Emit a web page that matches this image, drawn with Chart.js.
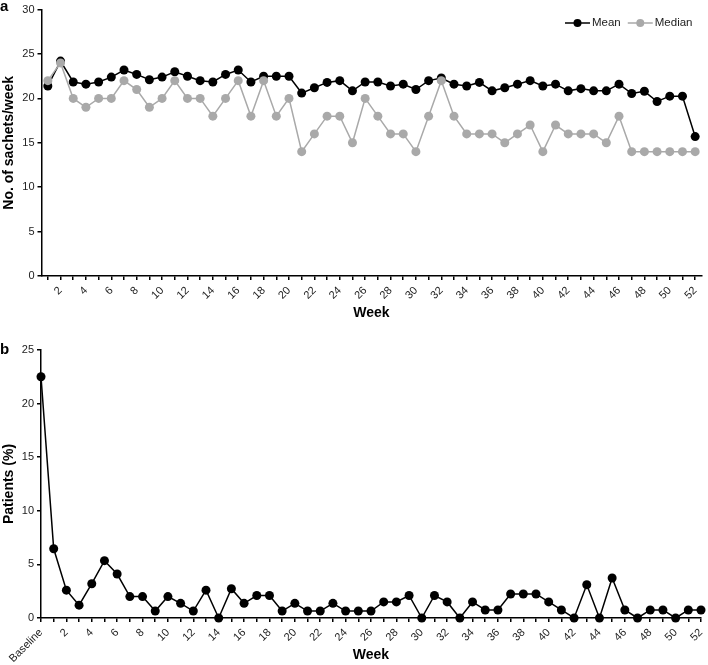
<!DOCTYPE html>
<html>
<head>
<meta charset="utf-8">
<script src="https://cdn.jsdelivr.net/npm/chart.js@4.4.1/dist/chart.umd.min.js"></script>
<style>
  body { margin: 0; background: #fff; width: 708px; height: 665px; position: relative; overflow: hidden; }
  canvas { position: absolute; left: 0; }
  #chartA { top: 0; }
  #chartB { top: 330px; }
  .panel { position: absolute; left: 0; font: bold 15px "Liberation Sans", Arial, sans-serif; color: #000; z-index: 2; }
</style>
</head>
<body>
<canvas id="chartA" width="708" height="330"></canvas>
<canvas id="chartB" width="708" height="335"></canvas>
<span class="panel" style="top:-3px">a</span>
<span class="panel" style="top:340px">b</span>
<script>
//--------------------- Data

// weeks 1..52 for panel a
var weeksA = []
for (var w = 1; w <= 52; w++) weeksA.push(String(w))

// Baseline + weeks 1..52 for panel b
var weeksB = ["Baseline"].concat(weeksA)

var meanSachets = [21.4, 24.2, 21.85, 21.6, 21.85, 22.4, 23.2, 22.7, 22.1, 22.4,
  23.0, 22.5, 22.0, 21.85, 22.7, 23.2, 21.85, 22.5, 22.5, 22.5,
  20.6, 21.2, 21.8, 22.0, 20.85, 21.85, 21.85, 21.4, 21.6, 21.0,
  22.0, 22.3, 21.6, 21.4, 21.8, 20.85, 21.2, 21.6, 22.0, 21.4,
  21.6, 20.85, 21.1, 20.85, 20.85, 21.6, 20.55, 20.8, 19.65, 20.25,
  20.25, 15.7]

var medianSachets = [22, 24, 20, 19, 20, 20, 22, 21, 19, 20,
  22, 20, 20, 18, 20, 22, 18, 22, 18, 20,
  14, 16, 18, 18, 15, 20, 18, 16, 16, 14,
  18, 22, 18, 16, 16, 16, 15, 16, 17, 14,
  17, 16, 16, 16, 15, 18, 14, 14, 14, 14,
  14, 14]

var patientsPct = [22.5,
  6.46, 2.6, 1.2, 3.2, 5.35, 4.1, 2.0, 2.0, 0.65, 2.0,
  1.37, 0.65, 2.6, 0, 2.73, 1.37, 2.1, 2.1, 0.65, 1.37,
  0.65, 0.65, 1.37, 0.65, 0.65, 0.65, 1.5, 1.5, 2.1, 0,
  2.1, 1.5, 0, 1.5, 0.75, 0.75, 2.24, 2.24, 2.24, 1.5,
  0.75, 0, 3.1, 0, 3.73, 0.75, 0, 0.75, 0.75, 0,
  0.75, 0.75]

//--------------------- Shared styling

var fontFamily = '"Liberation Sans", Arial, sans-serif'
var black = "#000000"
var grey = "#a9a9a9"

Chart.defaults.font.family = fontFamily
Chart.defaults.color = "#222"

//Legend with a short line and a dot, drawn inside the plot area top right
var lineLegend = {
  id: "lineLegend",
  afterDraw: function (chart) {
    if (!chart.options.plugins.lineLegend || !chart.options.plugins.lineLegend.show) return
    var ctx = chart.ctx
    var sets = chart.data.datasets
    ctx.save()
    ctx.font = "11.5px " + fontFamily
    ctx.textBaseline = "middle"
    var y = 23
    var x = 565
    for (var i = 0; i < sets.length; i++) {
      var c = sets[i].borderColor
      ctx.strokeStyle = c
      ctx.lineWidth = 1.5
      ctx.beginPath()
      ctx.moveTo(x, y)
      ctx.lineTo(x + 25, y)
      ctx.stroke()
      ctx.fillStyle = c
      ctx.beginPath()
      ctx.arc(x + 12.5, y, 4, 0, Math.PI * 2)
      ctx.fill()
      ctx.fillStyle = "#222"
      ctx.fillText(sets[i].label, x + 27, y)
      x += 27 + ctx.measureText(sets[i].label).width + 7
    }
    ctx.restore()
  }
}

function axisOptions(labelsShown, titleText, titlePad, xHeight, yWidth) {
  return {
    x: {
      type: "category",
      grid: { drawOnChartArea: false, tickLength: 4, color: black, lineWidth: 1.5, offset: false },
      border: { color: black, width: 1.5 },
      ticks: {
        autoSkip: false, minRotation: 45, maxRotation: 45, padding: 4,
        font: { size: 11 },
        callback: function (value, index) { return labelsShown(index) }
      },
      title: { display: true, text: "Week", font: { size: 14, weight: "bold" }, color: black, padding: { top: 0, bottom: titlePad } },
      afterFit: function (scale) { scale.height = xHeight; scale.paddingLeft = 0; scale.paddingRight = 0 }
    },
    y: {
      grid: { drawOnChartArea: false, tickLength: 4, color: black, lineWidth: 1.5 },
      border: { color: black, width: 1.5 },
      ticks: { stepSize: 5, padding: 3, font: { size: 11 } },
      title: { display: true, text: titleText, font: { size: 14, weight: "bold" }, color: black, padding: { top: 1, bottom: 0 } },
      afterFit: function (scale) { scale.width = yWidth }
    }
  }
}

//--------------------- Panel a

var scalesA = axisOptions(function (i) { return (i + 1) % 2 === 0 ? weeksA[i] : "" }, "No. of sachets/week", 8, 54, 41.5)
scalesA.x.offset = true
scalesA.y.min = 0
scalesA.y.max = 30

new Chart(document.getElementById("chartA"), {
  type: "line",
  data: {
    labels: weeksA,
    datasets: [
      { label: "Mean", data: meanSachets, borderColor: black, backgroundColor: black, borderWidth: 1.5,
        pointRadius: 4.5, pointHoverRadius: 4.5, pointBorderWidth: 0, clip: false, order: 1 },
      { label: "Median", data: medianSachets, borderColor: grey, backgroundColor: grey, borderWidth: 1.5,
        pointRadius: 4.5, pointHoverRadius: 4.5, pointBorderWidth: 0, clip: false, order: 0 }
    ]
  },
  options: {
    responsive: false,
    animation: false,
    layout: { padding: { top: 8, right: 6.5, left: 0, bottom: 0 } },
    scales: scalesA,
    plugins: { legend: { display: false }, tooltip: { enabled: false }, lineLegend: { show: true } }
  },
  plugins: [lineLegend]
})

//--------------------- Panel b

var scalesB = axisOptions(function (i) { return i === 0 || i % 2 === 0 ? weeksB[i] : "" }, "Patients (%)", 1, 47, 41)
scalesB.x.offset = false
scalesB.y.min = 0
scalesB.y.max = 25

new Chart(document.getElementById("chartB"), {
  type: "line",
  data: {
    labels: weeksB,
    datasets: [
      { label: "Patients", data: patientsPct, borderColor: black, backgroundColor: black, borderWidth: 1.5,
        pointRadius: 4.5, pointHoverRadius: 4.5, pointBorderWidth: 0, clip: false }
    ]
  },
  options: {
    responsive: false,
    animation: false,
    layout: { padding: { top: 20, right: 7, left: 0, bottom: 0 } },
    scales: scalesB,
    plugins: { legend: { display: false }, tooltip: { enabled: false } }
  }
})
</script>
</body>
</html>
